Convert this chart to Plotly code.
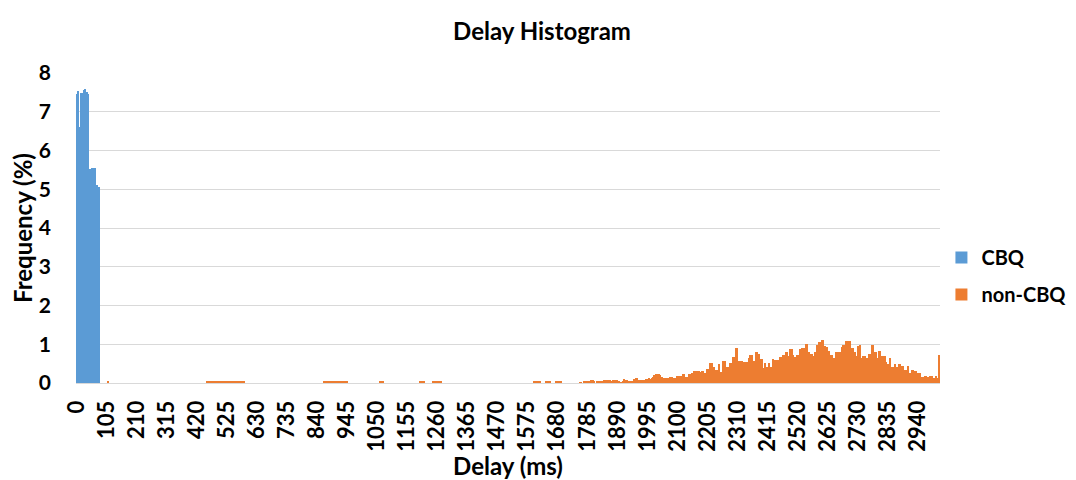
"""
Delay histogram: CBQ vs non-CBQ, share of packets per 5 ms bin.
"""

import plotly.graph_objects as go

BIN_MS = 5
N_BINS = 604  # 0 .. 3015 ms

# CBQ frequency (%) for the first bins (0 ms, 5 ms, ...)
cbq_pct = [7.45, 7.53, 6.6, 7.48, 7.48, 7.55, 7.6, 7.5, 7.47,
           5.52, 5.52, 5.55, 5.55, 5.55, 5.1, 5.07, 5.07]

# non-CBQ: isolated small bins at low delay (delay ms, %)
noncbq_sparse_ms = [110] + list(range(455, 590, 5)) + list(range(865, 950, 5)) \
    + [1060, 1065, 1070, 1200, 1205, 1210, 1215, 1245, 1250, 1255, 1260, 1265, 1270, 1275,
       1600, 1605, 1610, 1615, 1620, 1640, 1645, 1650, 1655, 1675, 1680, 1685, 1690, 1695]
noncbq_sparse_pct = 0.04

# non-CBQ: continuous tail starting at 1745 ms
noncbq_tail_start_ms = 1745
noncbq_tail_pct = [
    0, 0, 0, 0.02, 0.02, 0, 0.03, 0.03, 0.03, 0.04, 0.06, 0.09, 0.09, 0.03, 0, 0.05,
    0.05, 0.06, 0.05, 0.06, 0.07, 0.09, 0.07, 0.07, 0.08, 0.06, 0.09, 0.07, 0.07, 0.09,
    0.04, 0.02, 0.02, 0.03, 0.1, 0.09, 0.07, 0.06, 0.06, 0.06, 0.05, 0.1, 0.14, 0.12,
    0.09, 0.08, 0.07, 0.07, 0.08, 0.1, 0.11, 0.12, 0.1, 0.12, 0.15, 0.2, 0.23, 0.23,
    0.22, 0.2, 0.15, 0.13, 0.12, 0.13, 0.12, 0.13,
    0.16, 0.16, 0.14, 0.14, 0.14, 0.19, 0.19, 0.18, 0.18, 0.23, 0.23, 0.16, 0.16, 0.23,
    0.23, 0.27, 0.27, 0.3, 0.3, 0.32, 0.32, 0.28, 0.3, 0.3, 0.27, 0.27, 0.37, 0.37,
    0.51, 0.51, 0.42, 0.42, 0.34, 0.34, 0.48, 0.28, 0.28, 0.58, 0.58, 0.37, 0.41, 0.41,
    0.51, 0.51, 0.67, 0.67, 0.9, 0.9, 0.57, 0.57, 0.57, 0.55, 0.53, 0.55, 0.55, 0.65,
    0.71, 0.71, 0.58, 0.58, 0.81, 0.81, 0.74, 0.62, 0.62, 0.4,
    0.51, 0.42, 0.42, 0.51, 0.42, 0.42, 0.62, 0.6, 0.6, 0.6, 0.6, 0.67, 0.67, 0.73,
    0.73, 0.8, 0.8, 0.69, 0.88, 0.88, 0.73, 0.67, 0.67, 0.73, 0.73, 0.88, 0.9, 0.9,
    0.9, 1.0, 1.0, 0.81, 0.76, 0.76, 0.69, 0.81, 0.81, 0.99, 1.06, 1.06, 1.11, 1.1,
    0.96, 0.92, 0.92, 0.83, 0.73, 0.73, 0.64, 0.64, 0.81, 0.81, 0.81, 0.81, 0.94, 0.99,
    0.99, 1.08, 1.08, 1.08, 1.08, 0.9, 0.9, 0.81, 0.69,
    0.96, 0.96, 0.99, 0.65, 0.69, 0.69, 0.64, 0.64, 0.76, 0.76, 0.99, 0.99, 0.8, 0.8,
    0.65, 0.83, 0.83, 0.69, 0.69, 0.69, 0.55, 0.5, 0.5, 0.65, 0.42, 0.42, 0.5, 0.42,
    0.42, 0.48, 0.48, 0.44, 0.44, 0.34, 0.34, 0.44, 0.25, 0.25, 0.34, 0.34, 0.32, 0.32,
    0.27, 0.25, 0.25, 0.16, 0.16, 0.19, 0.19, 0.16, 0.16, 0.19, 0.19, 0.14, 0.14, 0.18,
    0.14, 0.73,
]

delays = [i * BIN_MS for i in range(N_BINS)]
cbq = cbq_pct + [0] * (N_BINS - len(cbq_pct))
noncbq = [0.0] * N_BINS
for d in noncbq_sparse_ms:
    noncbq[d // BIN_MS] = noncbq_sparse_pct
start = noncbq_tail_start_ms // BIN_MS
for i, v in enumerate(noncbq_tail_pct):
    if start + i < N_BINS:
        noncbq[start + i] = v

FONT = "Lato"

fig = go.Figure()
fig.add_bar(x=delays, y=cbq, name="<b>CBQ</b>", marker_color="#5B9BD5",
            marker_line_width=0, width=BIN_MS, legendgroup="a")
fig.add_bar(x=delays, y=noncbq, name="<b>non-CBQ</b>", marker_color="#ED7D31",
            marker_line_width=0, width=BIN_MS, legendgroup="b")

# page body has an 8px margin, so the figure is 8px smaller than the window
fig.update_layout(
    width=1068, height=472,
    barmode="overlay", bargap=0,
    plot_bgcolor="white", paper_bgcolor="white",
    font=dict(family=FONT, size=20, color="black"),
    title=dict(text="<b>Delay Histogram</b>", x=0.5, xanchor="center",
               y=0.949, yanchor="middle", font=dict(size=24)),
    margin=dict(l=68, r=136, t=65, b=97),
    legend=dict(xref="container", x=0.874, y=0.345, xanchor="left", yanchor="middle",
                tracegroupgap=8, font=dict(size=20)),
)
fig.update_xaxes(
    range=[-BIN_MS / 2, N_BINS * BIN_MS - BIN_MS / 2],
    tick0=0, dtick=105, tickangle=-90,
    tickprefix="<b>", ticksuffix="</b>", tickfont=dict(size=22),
    showgrid=False, showline=True, linecolor="#D9D9D9", linewidth=1,
    ticks="", ticklabelstandoff=8, automargin=False,
    title=dict(text="<b>Delay (ms)</b>", standoff=6),
)
fig.update_yaxes(
    range=[0, 8], dtick=1, tickprefix="<b>", ticksuffix="</b>", tickfont=dict(size=21),
    showgrid=True, gridcolor="#D9D9D9", zeroline=False,
    ticks="", ticklabelstandoff=24, automargin=False,
    title=dict(text="<b>Frequency (%)</b>", standoff=9),
)

fig.write_html("out.html")
